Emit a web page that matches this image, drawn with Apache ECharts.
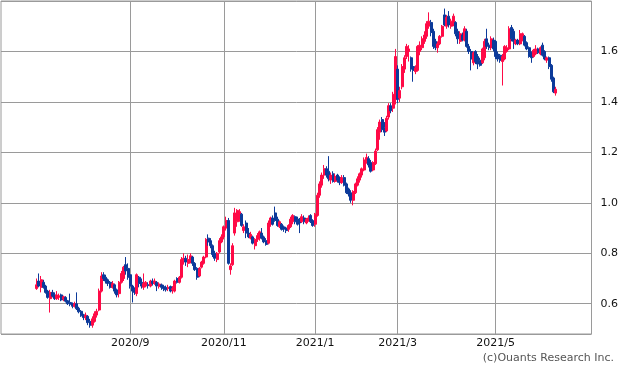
<!DOCTYPE html>
<html>
<head>
<meta charset="utf-8">
<script src="https://cdn.jsdelivr.net/npm/echarts@6/dist/echarts.min.js"></script>
<style>html,body{margin:0;padding:0;background:#fff;}#c{width:621px;height:372px;}</style>
</head>
<body>
<div id="c"></div>
<script>
// Trading days (Tokyo calendar), grouped by month
const tradingDays = [
  ['2020/6', [30]],
  ['2020/7', [1,2,3,6,7,8,9,10,13,14,15,16,17,20,21,22,27,28,29,30,31]],
  ['2020/8', [3,4,5,6,7,11,12,13,14,17,18,19,20,21,24,25,26,27,28,31]],
  ['2020/9', [1,2,3,4,7,8,9,10,11,14,15,16,17,18,23,24,25,28,29,30]],
  ['2020/10', [1,2,5,6,7,8,9,12,13,14,15,16,19,20,21,22,23,26,27,28,29,30]],
  ['2020/11', [2,4,5,6,9,10,11,12,13,16,17,18,19,20,24,25,26,27,30]],
  ['2020/12', [1,2,3,4,7,8,9,10,11,14,15,16,17,18,21,22,23,24,25,28,29,30]],
  ['2021/1', [4,5,6,7,8,12,13,14,15,18,19,20,21,22,25,26,27,28,29]],
  ['2021/2', [1,2,3,4,5,8,9,10,12,15,16,17,18,19,22,24,25,26]],
  ['2021/3', [1,2,3,4,5,8,9,10,11,12,15,16,17,18,19,22,23,24,25,26,29,30,31]],
  ['2021/4', [1,2,5,6,7,8,9,12,13,14,15,16,19,20,21,22,23,26,27,28,30]],
  ['2021/5', [6,7,10,11,12,13,14,17,18,19,20,21,24,25,26,27,28,31]],
  ['2021/6', [1,2,3,4,7,8,9,10,11,14]]
];
// Months whose first trading day gets a label and a vertical grid line
const labelMonths = ['2020/9', '2020/11', '2021/1', '2021/3', '2021/5'];
// Y-axis tick labels shown
const yTicks = [0.6, 0.8, 1.0, 1.2, 1.4, 1.6];

// Candles: [open, close, low, high], one per trading day in order
const candles = [
  [0.660,0.675,0.655,0.700],
  // 2020/7
  [0.690,0.670,0.665,0.720],[0.665,0.695,0.645,0.710],[0.685,0.665,0.660,0.695],[0.670,0.645,0.640,0.675],
  [0.650,0.625,0.620,0.655],[0.620,0.645,0.565,0.655],[0.645,0.630,0.625,0.655],[0.635,0.620,0.615,0.645],
  [0.620,0.635,0.615,0.650],[0.625,0.632,0.615,0.640],[0.635,0.615,0.610,0.640],[0.618,0.628,0.610,0.632],
  [0.625,0.610,0.605,0.630],[0.612,0.600,0.595,0.615],[0.605,0.598,0.590,0.640],[0.600,0.590,0.582,0.605],
  [0.590,0.600,0.585,0.608],[0.600,0.580,0.575,0.645],[0.582,0.568,0.562,0.588],[0.570,0.552,0.548,0.575],
  [0.556,0.545,0.535,0.560],
  // 2020/8
  [0.545,0.555,0.535,0.565],[0.550,0.525,0.515,0.555],[0.530,0.515,0.505,0.540],[0.515,0.540,0.505,0.550],
  [0.530,0.560,0.525,0.570],[0.555,0.570,0.545,0.580],[0.575,0.650,0.570,0.660],[0.650,0.710,0.645,0.725],
  [0.715,0.700,0.690,0.725],[0.705,0.690,0.680,0.715],[0.695,0.680,0.670,0.700],[0.685,0.665,0.660,0.690],
  [0.665,0.680,0.660,0.690],[0.675,0.650,0.640,0.680],[0.655,0.635,0.625,0.660],[0.640,0.685,0.625,0.690],
  [0.685,0.720,0.680,0.730],[0.700,0.745,0.690,0.750],[0.755,0.730,0.715,0.785],[0.740,0.705,0.695,0.760],
  // 2020/9
  [0.715,0.670,0.660,0.725],[0.670,0.650,0.605,0.675],[0.655,0.645,0.635,0.665],[0.640,0.715,0.630,0.720],
  [0.705,0.680,0.665,0.710],[0.685,0.670,0.660,0.700],[0.665,0.680,0.655,0.720],[0.670,0.685,0.665,0.690],
  [0.675,0.672,0.660,0.685],[0.670,0.690,0.665,0.695],[0.690,0.680,0.672,0.700],[0.680,0.690,0.675,0.700],
  [0.685,0.670,0.650,0.690],[0.668,0.678,0.660,0.685],[0.675,0.665,0.655,0.680],[0.668,0.660,0.650,0.675],
  [0.665,0.655,0.648,0.672],[0.660,0.665,0.650,0.675],[0.668,0.650,0.645,0.672],[0.655,0.660,0.640,0.670],
  // 2020/10
  [0.650,0.690,0.645,0.695],[0.700,0.685,0.680,0.705],[0.685,0.705,0.680,0.710],[0.705,0.775,0.700,0.785],
  [0.770,0.780,0.755,0.800],[0.780,0.765,0.750,0.790],[0.760,0.775,0.745,0.795],[0.770,0.790,0.760,0.800],
  [0.785,0.760,0.750,0.790],[0.760,0.735,0.730,0.765],[0.740,0.705,0.695,0.745],[0.710,0.740,0.705,0.745],
  [0.745,0.765,0.740,0.770],[0.760,0.785,0.755,0.790],[0.785,0.855,0.780,0.860],[0.860,0.845,0.830,0.875],
  [0.850,0.830,0.820,0.860],[0.830,0.795,0.785,0.835],[0.800,0.780,0.770,0.810],[0.775,0.800,0.765,0.805],
  [0.805,0.850,0.800,0.860],[0.845,0.865,0.840,0.875],
  // 2020/11
  [0.865,0.905,0.855,0.910],[0.900,0.930,0.890,0.945],[0.930,0.760,0.755,0.940],[0.735,0.750,0.715,0.760],
  [0.755,0.830,0.750,0.840],[0.880,0.960,0.870,0.980],[0.925,0.970,0.905,0.975],[0.935,0.965,0.925,0.975],
  [0.955,0.910,0.905,0.960],[0.890,0.905,0.880,0.915],[0.920,0.880,0.860,0.930],[0.880,0.865,0.860,0.900],
  [0.860,0.875,0.855,0.885],[0.865,0.840,0.835,0.870],[0.830,0.855,0.815,0.860],[0.855,0.870,0.845,0.880],
  [0.860,0.885,0.850,0.890],[0.880,0.860,0.855,0.900],[0.865,0.845,0.840,0.870],
  // 2020/12
  [0.850,0.835,0.830,0.860],[0.840,0.920,0.835,0.930],[0.915,0.940,0.905,0.945],[0.940,0.915,0.910,0.950],
  [0.960,0.930,0.925,0.985],[0.935,0.910,0.905,0.945],[0.905,0.925,0.900,0.930],[0.915,0.895,0.890,0.920],
  [0.905,0.895,0.885,0.910],[0.900,0.890,0.880,0.905],[0.895,0.910,0.885,0.915],[0.905,0.935,0.900,0.945],
  [0.925,0.950,0.915,0.955],[0.945,0.925,0.915,0.950],[0.935,0.915,0.910,0.945],[0.935,0.920,0.880,0.940],
  [0.925,0.945,0.920,0.955],[0.940,0.925,0.915,0.950],[0.920,0.935,0.915,0.940],[0.930,0.940,0.925,0.950],
  [0.950,0.925,0.920,0.955],[0.930,0.910,0.905,0.935],
  // 2021/1
  [0.915,0.955,0.905,0.960],[0.950,1.030,0.945,1.040],[1.030,1.075,1.020,1.085],[1.070,1.110,1.060,1.120],
  [1.110,1.135,1.095,1.150],[1.135,1.110,1.100,1.145],[1.125,1.095,1.085,1.185],[1.090,1.110,1.075,1.120],
  [1.115,1.085,1.080,1.125],[1.085,1.105,1.080,1.115],[1.110,1.090,1.080,1.115],[1.100,1.080,1.070,1.105],
  [1.080,1.100,1.075,1.110],[1.100,1.070,1.065,1.110],[1.075,1.040,1.035,1.080],[1.055,1.035,1.025,1.060],
  [1.040,1.010,1.000,1.050],[1.010,1.045,0.990,1.050],[1.040,1.075,1.035,1.080],
  // 2021/2
  [1.070,1.095,1.065,1.105],[1.090,1.115,1.080,1.120],[1.110,1.135,1.100,1.140],[1.130,1.170,1.125,1.180],
  [1.165,1.180,1.155,1.195],[1.175,1.150,1.140,1.185],[1.160,1.125,1.120,1.170],[1.130,1.160,1.125,1.165],
  [1.155,1.205,1.150,1.215],[1.210,1.290,1.205,1.300],[1.280,1.320,1.250,1.330],[1.330,1.290,1.280,1.340],
  [1.300,1.280,1.265,1.320],[1.285,1.335,1.280,1.345],[1.340,1.385,1.330,1.395],[1.385,1.365,1.355,1.395],
  [1.375,1.430,1.360,1.440],[1.410,1.580,1.390,1.610],
  // 2021/3
  [1.530,1.410,1.395,1.545],[1.415,1.445,1.400,1.460],[1.460,1.540,1.450,1.550],[1.530,1.575,1.515,1.585],
  [1.580,1.620,1.570,1.630],[1.600,1.610,1.560,1.625],[1.575,1.530,1.520,1.580],[1.540,1.525,1.480,1.550],
  [1.520,1.535,1.510,1.545],[1.525,1.620,1.520,1.625],[1.600,1.625,1.585,1.640],[1.615,1.650,1.605,1.660],
  [1.640,1.665,1.630,1.680],[1.660,1.710,1.650,1.720],[1.700,1.720,1.690,1.755],[1.715,1.675,1.660,1.725],
  [1.680,1.620,1.610,1.690],[1.640,1.615,1.605,1.650],[1.615,1.630,1.595,1.640],[1.630,1.660,1.625,1.665],
  [1.660,1.700,1.655,1.705],[1.745,1.705,1.700,1.770],[1.700,1.735,1.690,1.745],
  // 2021/4
  [1.740,1.705,1.695,1.760],[1.700,1.720,1.690,1.730],[1.710,1.740,1.700,1.750],[1.715,1.670,1.660,1.720],
  [1.680,1.650,1.630,1.690],[1.640,1.670,1.630,1.680],[1.665,1.645,1.640,1.675],[1.645,1.690,1.640,1.700],
  [1.680,1.620,1.615,1.690],[1.620,1.600,1.590,1.630],[1.600,1.570,1.525,1.610],[1.555,1.595,1.545,1.600],
  [1.600,1.560,1.550,1.605],[1.580,1.550,1.530,1.590],[1.565,1.545,1.540,1.575],[1.555,1.610,1.550,1.615],
  [1.575,1.640,1.565,1.650],[1.650,1.620,1.610,1.690],[1.625,1.615,1.605,1.635],[1.615,1.650,1.605,1.660],
  [1.645,1.610,1.600,1.655],
  // 2021/5
  [1.640,1.580,1.570,1.645],[1.590,1.570,1.560,1.600],[1.585,1.565,1.555,1.590],[1.560,1.580,1.465,1.590],
  [1.570,1.620,1.565,1.625],[1.600,1.615,1.595,1.625],[1.610,1.690,1.605,1.700],[1.695,1.650,1.640,1.705],
  [1.680,1.640,1.610,1.690],[1.630,1.645,1.625,1.650],[1.645,1.630,1.625,1.650],[1.630,1.670,1.625,1.685],
  [1.645,1.670,1.640,1.675],[1.660,1.625,1.620,1.665],[1.635,1.610,1.605,1.640],[1.615,1.580,1.575,1.620],
  [1.595,1.575,1.555,1.600],[1.580,1.605,1.575,1.610],
  // 2021/6
  [1.590,1.610,1.585,1.625],[1.610,1.595,1.590,1.615],[1.590,1.615,1.585,1.620],[1.625,1.585,1.580,1.635],
  [1.600,1.570,1.565,1.605],[1.565,1.575,1.555,1.580],[1.575,1.540,1.530,1.580],[1.545,1.490,1.480,1.550],
  [1.495,1.440,1.435,1.500],[1.435,1.450,1.425,1.460]
];

const PAD_BEFORE = 16, PAD_AFTER = 16;

// Build categories
const dates = [];
const labelDates = [];
tradingDays.forEach(([ym, days]) => {
  days.forEach((d, k) => {
    const name = ym + '/' + d;
    dates.push(name);
    if (k === 0 && labelMonths.indexOf(ym) >= 0) labelDates.push(name);
  });
});
const categories = [];
for (let i = 0; i < PAD_BEFORE; i++) categories.push('padA' + i);
dates.forEach(d => categories.push(d));
for (let i = 0; i < PAD_AFTER; i++) categories.push('padB' + i);

const seriesData = dates.map((d, i) => [d].concat(candles[i]));

const UP = '#ff0a46', DOWN = '#0c3a9a';
const GRID = '#9a9a9a';
const FONT = 'DejaVu Sans';

const isLabel = (idx, val) => labelDates.indexOf(val) >= 0;

const chart = echarts.init(document.getElementById('c'), null, {renderer: 'canvas'});
chart.setOption({
  animation: false,
  backgroundColor: '#fff',
  grid: {left: 1, top: 1, right: 26, bottom: 38, show: true, borderColor: GRID, borderWidth: 1, backgroundColor: '#fff', containLabel: false},
  xAxis: {
    type: 'category',
    data: categories,
    boundaryGap: false,
    axisLine: {show: false},
    axisTick: {show: false},
    axisLabel: {
      interval: isLabel,
      margin: 4,
      fontSize: 11,
      fontFamily: FONT,
      color: '#111',
      formatter: v => v.split('/').slice(0, 2).join('/')
    },
    splitLine: {show: true, interval: isLabel, lineStyle: {color: GRID, width: 1}}
  },
  yAxis: {
    type: 'value',
    position: 'right',
    min: 0.48,
    max: 1.8,
    splitNumber: 6,
    scale: true,
    axisLine: {show: false},
    axisTick: {show: false},
    axisLabel: {
      showMinLabel: false,
      showMaxLabel: false,
      margin: 9,
      fontSize: 11,
      fontFamily: FONT,
      color: '#111',
      formatter: v => yTicks.some(t => Math.abs(t - v) < 1e-6) ? v.toFixed(1) : ''
    },
    splitLine: {show: true, lineStyle: {color: GRID, width: 1}}
  },
  series: [{
    type: 'candlestick',
    data: seriesData,
    encode: {x: 0, y: [1, 2, 3, 4]},
    barWidth: 2.5,
    itemStyle: {color: UP, color0: DOWN, borderColor: UP, borderColor0: DOWN, borderWidth: 1}
  }],
  graphic: [{
    type: 'text',
    right: 7,
    top: 353,
    style: {text: '(c)Ouants Research Inc.', fontSize: 11, fontFamily: FONT, fill: '#555'}
  }]
});
</script>
</body>
</html>
